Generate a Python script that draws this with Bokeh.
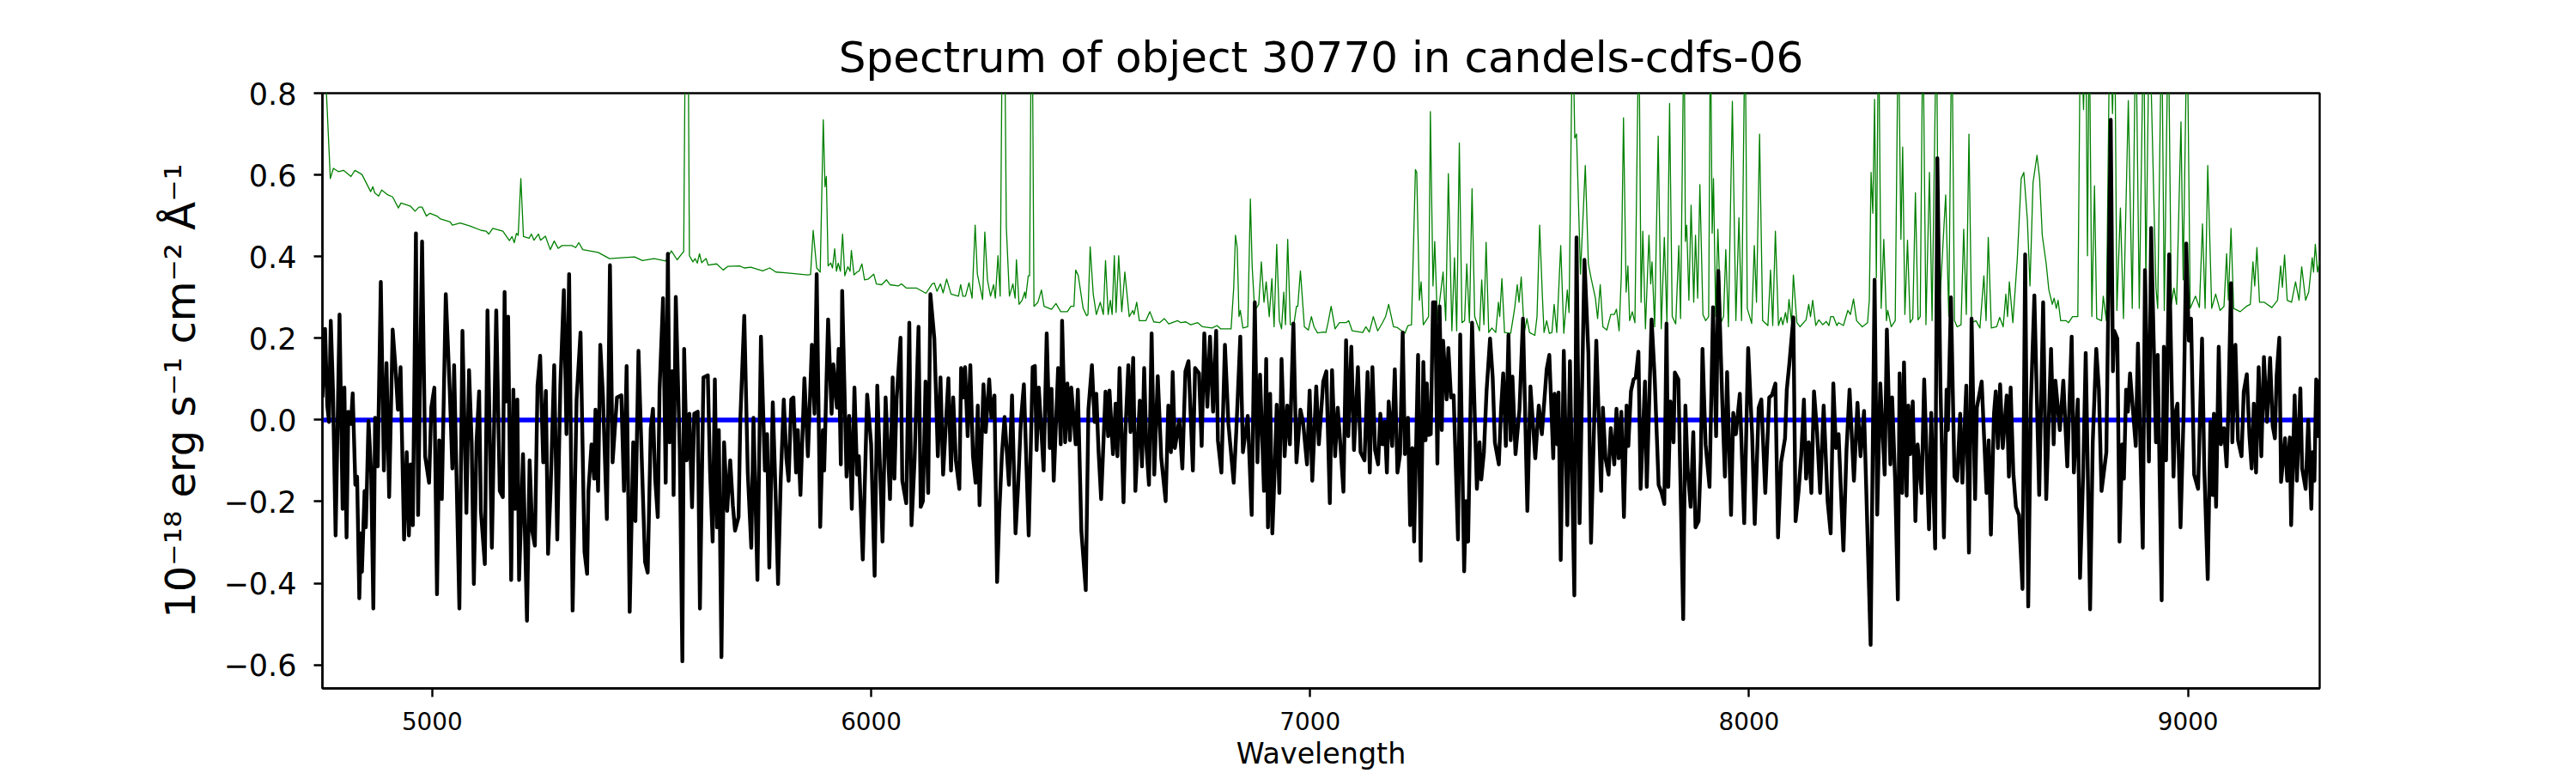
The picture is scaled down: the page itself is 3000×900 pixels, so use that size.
from bokeh.embed import file_html
from bokeh.models import FixedTicker, Range1d
from bokeh.plotting import figure
from bokeh.resources import INLINE

TITLE = "Spectrum of object 30770 in candels-cdfs-06"
X_LABEL = "Wavelength"
Y_LABEL = "10\u207b\u00b9\u2078 erg s\u207b\u00b9 cm\u207b\u00b2 \u00c5\u207b\u00b9"
x_ticks = [5000, 6000, 7000, 8000, 9000]
y_ticks = [-0.6, -0.4, -0.2, 0.0, 0.2, 0.4, 0.6, 0.8]
y_tick_labels = ["\u22120.6", "\u22120.4", "\u22120.2", "0.0", "0.2", "0.4", "0.6", "0.8"]

black_wave_a = [4750,4756,4761,4765,4769,4774,4780,4789,4796,4800,4805,4809,4815,4819,4825,4829,4834,4838,4840,4846,4849,4855,4861,4866,4870,4876,4883,4890,4896,4902,4910,4916,4922,4928,4936,4942,4947,4951,4956,4963,4968,4977,4984,4993,4998,5005,5011,5016,5022,5031,5040,5046,5050,5062,5069,5078,5084,5090,5095,5101,5107,5111,5120,5126,5136,5146,5154,5161,5165,5168,5173,5180,5185,5189,5194,5198,5207,5216,5222,5228,5234,5240,5246,5253,5259,5264,5270,5278,5285,5292,5300,5306,5312,5320,5329,5338,5347,5353,5356,5363,5369,5372,5378,5383,5389,5398,5405,5411,5421,5431,5437,5443,5450,5458,5463,5470,5478,5485,5491,5498,5503,5508,5514,5518,5526,5532,5537,5541,5547,5550,5555,5564,5570,5574,5580,5586,5592,5597,5605,5610,5618,5628,5633,5639,5644,5649,5653,5659,5665,5672,5679,5685,5690,5698,5702,5711,5719,5727,5732,5741,5749,5758,5763,5768,5776,5783,5788,5794,5801,5807,5812,5818,5823,5829,5833,5839,5848,5856]
black_flux_a = [0.055,0.223,0.035,-0.005,0.243,0.074,-0.283,0.258,-0.218,0.079,-0.288,0.02,-0.01,0.065,-0.159,-0.139,-0.437,-0.278,-0.372,-0.174,-0.263,-0.003,-0.129,-0.462,0.005,-0.114,0.338,-0.124,0.139,-0.189,0.221,0.134,0.025,0.129,-0.293,-0.079,-0.283,-0.109,-0.258,0.457,-0.233,0.437,-0.089,-0.154,0.03,0.079,-0.427,-0.05,-0.194,0.308,0.074,-0.119,0.134,-0.462,0.218,-0.228,0.122,-0.055,-0.402,-0.055,0.07,-0.223,-0.353,0.268,-0.313,0.268,-0.174,-0.189,0.313,0.045,0.253,-0.392,0.074,-0.218,0.05,-0.392,-0.084,-0.492,-0.099,-0.273,-0.308,0.084,0.157,-0.104,0.071,-0.328,-0.164,0.134,-0.293,0.084,0.318,-0.035,0.357,-0.467,0.05,0.214,-0.323,-0.377,-0.174,-0.06,-0.144,0.025,-0.174,0.184,0.06,-0.243,0.379,-0.104,0.055,0.06,-0.174,0.132,-0.47,-0.055,-0.248,0.169,-0.114,-0.348,-0.374,-0.02,0.027,-0.144,-0.238,0.072,0.298,-0.154,0.407,-0.055,0.119,-0.184,0.301,-0.074,-0.591,0.174,-0.099,0.015,-0.214,0.015,0.02,-0.462,0.104,0.109,-0.124,-0.298,0.099,-0.263,-0.025,-0.581,-0.055,-0.223,-0.099,-0.209,-0.271,-0.238,0.0,0.255,-0.129,-0.313,0.005,-0.392,0.204,-0.124,-0.035,-0.362,0.043,-0.204,-0.402,-0.149,0.05,-0.094,-0.149,0.05,0.055,-0.129,-0.025,-0.184,0.102,-0.089]

black_wave_b = [5865,5871,5876,5884,5890,5893,5902,5910,5914,5922,5926,5931,5934,5944,5950,5956,5962,5968,5972,5981,5991,6000,6008,6014,6026,6033,6043,6049,6053,6058,6067,6071,6080,6087,6092,6099,6108,6113,6118,6124,6130,6135,6144,6152,6158,6164,6176,6182,6187,6193,6201,6205,6210,6214,6220,6226,6232,6238,6243,6247,6256,6261,6269,6274,6281,6287,6292,6298,6304,6314,6321,6329,6335,6341,6348,6359,6368,6373,6377,6382,6393,6400,6407,6411,6416,6426,6432,6435,6442,6447,6453,6456,6466,6471,6479,6489,6495,6503,6509,6513,6518,6524,6534,6540,6543,6551,6557,6561,6566,6575,6579,6586,6591,6597,6602,6612,6617,6622,6627,6633,6639,6645,6653,6661,6671,6677,6683,6687,6692,6702,6709,6716,6723,6733,6738,6747,6753,6759,6766,6772,6779,6786,6790,6798,6806,6814,6826,6832,6841,6847,6858,6867,6874,6880,6886,6895,6900,6904,6909,6914,6919,6924,6930,6935,6942,6948,6954,6962,6969,6978,6984,6993,6999,7005,7014,7020,7030]
black_flux_b = [0.184,0.015,0.357,-0.262,-0.025,-0.124,0.246,0.015,0.136,0.03,0.174,-0.109,0.316,-0.139,0.01,-0.218,0.079,-0.134,-0.089,-0.342,0.062,-0.06,-0.382,0.084,-0.298,0.055,-0.194,0.104,-0.144,0.05,0.201,-0.149,-0.204,0.238,-0.258,-0.099,0.228,-0.213,-0.199,0.094,-0.179,0.308,0.199,-0.089,0.104,-0.134,0.102,-0.124,0.055,-0.099,-0.169,0.127,0.055,0.129,-0.04,0.134,-0.089,-0.154,0.035,-0.209,0.087,-0.03,0.099,0.005,0.06,-0.397,-0.228,-0.084,0.007,-0.159,0.06,-0.278,-0.159,-0.005,0.087,-0.283,0.129,0.132,-0.074,0.079,-0.124,0.212,-0.069,0.076,-0.149,0.127,-0.06,0.243,-0.055,0.089,-0.05,0.079,-0.06,0.074,-0.273,-0.417,0.025,0.134,-0.005,0.064,-0.074,-0.194,0.069,-0.04,0.072,-0.084,0.04,-0.089,0.127,-0.202,-0.035,0.134,-0.03,0.152,-0.174,0.047,-0.114,0.127,-0.064,-0.159,0.212,-0.134,0.107,-0.094,-0.199,0.035,-0.079,0.117,-0.069,0.0,-0.119,0.119,0.144,-0.124,0.127,0.114,-0.064,0.212,0.032,0.204,0.02,0.218,-0.05,-0.129,0.184,-0.01,-0.154,-0.025,0.204,-0.079,0.01,-0.233,0.288,-0.104,0.111,-0.174,0.149,-0.263,0.064,-0.278,-0.134,0.037,-0.179,0.149,-0.089,0.035,-0.06,0.236,-0.104,0.025,-0.005,-0.109,0.072,-0.149,0.082,-0.06,0.094]

black_wave_c = [7037,7045,7050,7057,7063,7069,7076,7082,7087,7094,7100,7109,7115,7124,7131,7136,7142,7148,7155,7160,7165,7170,7175,7179,7187,7193,7199,7205,7211,7216,7223,7228,7233,7237,7246,7252,7258,7263,7266,7270,7275,7280,7285,7290,7295,7300,7303,7311,7315,7321,7327,7337,7342,7351,7355,7360,7369,7380,7386,7390,7396,7402,7410,7416,7421,7430,7435,7440,7446,7452,7457,7461,7468,7477,7485,7495,7502,7513,7521,7528,7539,7545,7554,7557,7563,7566,7571,7578,7586,7592,7602,7607,7614,7625,7634,7640,7652,7663,7667,7673,7680,7685,7693,7698,7703,7709,7715,7721,7725,7731,7737,7742,7748,7753,7763,7767,7778,7785,7794,7801,7807,7812,7816,7821,7828,7831,7839,7843,7850,7855,7860,7867,7873,7878,7885,7890,7894,7901,7910,7918,7925,7930,7939,7945,7950,7959,7964,7970,7979,7989,7998,8007,8013,8022,8028,8037,8046,8052,8060,8066,8073,8082,8086,8092,8101,8106,8113,8119,8125,8130,8136,8142,8148,8155,8162,8170,8179,8186,8192,8198,8204]
black_flux_c = [0.119,-0.204,0.122,-0.089,0.03,-0.06,-0.176,0.195,-0.04,0.179,-0.074,0.129,-0.079,-0.099,0.117,-0.129,0.129,-0.074,-0.109,0.015,-0.06,-0.005,-0.129,0.045,-0.064,0.124,-0.129,-0.084,0.214,-0.084,0.005,-0.258,-0.069,-0.298,0.159,-0.345,0.142,-0.05,0.089,-0.037,-0.035,0.288,0.288,-0.107,0.278,-0.025,0.194,0.05,0.176,0.055,0.06,-0.293,0.209,-0.371,-0.199,-0.298,0.238,-0.169,-0.055,-0.146,-0.079,0.07,0.199,0.104,-0.055,-0.109,0.025,0.114,-0.064,0.208,-0.05,0.106,-0.084,0.025,0.248,-0.223,0.082,-0.094,0.035,-0.035,0.124,0.159,-0.094,0.064,-0.06,0.067,-0.343,0.169,-0.258,0.144,-0.43,0.447,-0.253,0.392,0.164,-0.301,0.194,-0.174,0.03,-0.094,-0.134,-0.02,-0.109,0.027,-0.094,0.02,-0.238,0.035,-0.064,0.07,0.099,0.104,0.167,-0.169,0.094,-0.164,0.246,0.104,-0.159,-0.179,-0.206,0.236,-0.164,0.045,-0.055,0.116,0.099,-0.114,-0.488,0.035,-0.119,-0.213,-0.03,-0.263,-0.248,-0.099,0.174,-0.06,-0.164,0.276,-0.04,0.365,0.045,-0.139,0.117,-0.233,0.017,-0.035,0.064,-0.253,0.176,-0.035,-0.255,0.03,0.05,-0.179,0.055,0.06,0.089,-0.288,-0.104,-0.045,0.074,0.139,0.251,-0.248,-0.174,-0.084,0.05,-0.144,-0.055,-0.179,0.07,-0.03,-0.179,0.035,-0.199,-0.278,0.089,-0.069,-0.035]

black_wave_d = [8215,8222,8229,8239,8247,8254,8262,8277,8286,8292,8299,8309,8314,8322,8326,8333,8339,8343,8349,8353,8359,8363,8367,8373,8379,8384,8393,8399,8410,8415,8424,8429,8436,8444,8450,8453,8460,8468,8474,8481,8486,8495,8501,8507,8515,8519,8530,8541,8546,8551,8558,8562,8567,8572,8578,8587,8592,8596,8602,8608,8615,8623,8629,8636,8642,8650,8661,8670,8677,8688,8694,8698,8708,8716,8725,8735,8740,8749,8754,8761,8767,8771,8777,8783,8791,8797,8803,8814,8824,8829,8832,8839,8844,8850,8854,8859,8863,8868,8881,8886,8897,8902,8911,8916,8927,8931,8940,8945,8950,8957,8967,8971,8976,8983,8990,8996,9002,9007,9014,9023,9032,9037,9045,9051,9056,9059,9064,9070,9075,9082,9088,9092,9098,9101,9108,9114,9122,9127,9134,9140,9145,9150,9155,9161,9167,9173,9180,9187,9193,9198,9202,9208,9212,9221,9226,9232,9235,9243,9248,9256,9260,9268,9274,9281,9284,9288,9292,9297,9299]
black_flux_d = [-0.32,-0.074,0.074,-0.149,0.042,-0.089,0.022,-0.551,0.343,-0.232,0.089,-0.134,0.221,-0.109,0.055,-0.154,-0.44,0.114,-0.179,0.141,-0.186,0.035,-0.084,0.045,-0.248,-0.06,-0.179,0.099,-0.268,0.017,-0.315,0.641,0.084,-0.288,0.074,-0.025,0.3,-0.139,-0.149,0.015,-0.154,0.084,-0.325,0.248,-0.194,0.03,0.094,-0.179,-0.05,-0.281,0.015,0.07,-0.069,0.087,-0.069,0.06,-0.139,0.079,-0.129,-0.213,-0.233,-0.414,0.405,-0.457,0.04,0.305,-0.184,0.288,-0.194,0.174,-0.06,0.096,-0.025,0.096,-0.114,0.204,-0.129,0.05,-0.387,-0.139,0.164,-0.084,-0.464,-0.055,0.174,0.074,-0.174,-0.079,0.735,0.119,0.218,0.199,-0.298,-0.06,-0.144,0.074,0.02,0.114,-0.064,0.187,-0.313,0.367,-0.102,0.47,-0.055,0.159,-0.442,0.179,-0.099,0.405,-0.139,0.015,0.04,-0.263,0.015,0.432,0.194,0.248,-0.134,-0.169,0.199,-0.114,-0.39,-0.005,-0.184,0.015,-0.213,0.179,-0.06,-0.02,-0.114,0.03,0.335,-0.055,0.184,-0.05,-0.089,0.069,0.112,-0.04,-0.119,0.04,-0.129,0.129,-0.089,0.154,-0.005,0.152,-0.015,-0.045,0.109,0.201,-0.152,-0.045,-0.149,-0.043,-0.258,0.06,-0.149,0.077,-0.119,-0.169,0.0,-0.218,-0.079,-0.149,0.099,-0.04,0.099]

green_wave_a = [4753,4760,4768,4775,4786,4798,4815,4824,4840,4860,4865,4869,4878,4885,4899,4910,4923,4929,4951,4961,4970,4977,4987,4995,5011,5019,5041,5046,5064,5086,5112,5123,5129,5138,5161,5176,5182,5187,5192,5196,5202,5208,5221,5226,5232,5242,5247,5258,5269,5278,5287,5296,5318,5327,5334,5343,5359,5378,5404,5431,5461,5479,5505,5532,5545,5558,5569,5573,5577,5583,5586,5594,5599,5604,5609,5614,5624,5629,5648,5663,5674,5700,5711,5726,5753,5769,5783,5805,5856]
green_flux_a = [0.938,0.78,0.591,0.616,0.608,0.611,0.596,0.611,0.601,0.559,0.571,0.556,0.548,0.563,0.551,0.546,0.519,0.531,0.523,0.511,0.521,0.521,0.499,0.506,0.499,0.492,0.485,0.477,0.482,0.475,0.464,0.462,0.455,0.469,0.462,0.439,0.449,0.434,0.457,0.452,0.591,0.449,0.445,0.455,0.44,0.455,0.44,0.45,0.417,0.438,0.42,0.427,0.427,0.422,0.434,0.417,0.414,0.41,0.395,0.397,0.399,0.39,0.395,0.389,0.414,0.392,0.407,0.412,1.0,1.0,0.402,0.387,0.395,0.384,0.407,0.385,0.395,0.379,0.382,0.367,0.376,0.377,0.372,0.374,0.365,0.372,0.362,0.36,0.355]

green_wave_b = [5862,5868,5876,5884,5891,5895,5898,5902,5908,5912,5917,5921,5925,5930,5935,5940,5947,5952,5955,5961,5968,5973,5979,5985,5994,6006,6012,6024,6035,6043,6062,6069,6080,6103,6125,6139,6144,6150,6158,6164,6172,6182,6199,6204,6209,6215,6223,6230,6237,6242,6254,6259,6265,6272,6279,6283,6289,6294,6299,6304,6308,6315,6323,6328,6331,6337,6344,6350,6352,6358,6361,6365,6367,6371,6380,6388,6394,6411,6421,6432,6447,6455,6462,6466,6472,6483,6491,6494,6499,6506,6513,6522,6529,6534,6540,6545,6549,6554,6558,6564,6571,6578,6588,6596,6599,6605,6611,6626,6635,6644,6657,6668,6678,6698,6706,6717,6728,6744,6755,6777,6788,6796,6820,6826,6830,6834,6838,6841,6847,6858,6864,6868,6873,6877,6883,6889,6895,6900,6907,6913,6918,6924,6930,6935,6940,6944,6949,6955,6963,6969,6972,6978,6987,6996,7003,7009,7017,7030]
green_flux_b = [0.356,0.464,0.372,0.362,0.735,0.571,0.596,0.377,0.384,0.372,0.419,0.364,0.384,0.364,0.455,0.353,0.375,0.364,0.415,0.355,0.362,0.365,0.382,0.343,0.345,0.357,0.333,0.331,0.343,0.331,0.328,0.333,0.323,0.323,0.31,0.333,0.335,0.315,0.333,0.311,0.345,0.308,0.303,0.331,0.303,0.303,0.336,0.298,0.477,0.357,0.295,0.46,0.343,0.303,0.331,0.298,0.402,0.303,1.0,1.0,0.472,0.303,0.333,0.298,0.392,0.283,0.293,0.313,0.298,0.353,0.353,1.0,1.0,0.278,0.288,0.318,0.278,0.271,0.285,0.265,0.265,0.278,0.278,0.367,0.353,0.273,0.255,0.258,0.424,0.308,0.258,0.288,0.258,0.39,0.258,0.293,0.258,0.402,0.263,0.402,0.265,0.362,0.253,0.268,0.258,0.288,0.243,0.243,0.265,0.24,0.238,0.248,0.235,0.243,0.238,0.24,0.233,0.238,0.228,0.225,0.231,0.223,0.223,0.323,0.452,0.422,0.253,0.268,0.225,0.228,0.541,0.377,0.283,0.273,0.283,0.387,0.288,0.338,0.253,0.346,0.228,0.43,0.243,0.223,0.313,0.233,0.442,0.233,0.233,0.278,0.278,0.365,0.228,0.22,0.253,0.228,0.213,0.215]

green_wave_c = [7036,7041,7048,7057,7067,7082,7088,7096,7120,7127,7135,7144,7154,7165,7172,7179,7190,7199,7216,7223,7231,7240,7243,7249,7253,7258,7270,7274,7280,7284,7290,7296,7303,7309,7315,7323,7329,7334,7340,7346,7352,7357,7363,7369,7375,7386,7391,7396,7401,7407,7414,7423,7429,7432,7437,7443,7457,7466,7472,7476,7481,7488,7494,7500,7512,7517,7523,7529,7533,7539,7545,7551,7556,7562,7571,7578,7586,7590,7598,7603,7607,7616,7627,7634,7640,7650,7655,7661,7667,7676,7685,7693,7698,7704,7709,7714,7720,7724,7728,7734,7740,7749,7754,7758,7764,7772,7776,7779,7785,7793,7800,7807,7813,7819,7825,7833,7840,7844,7852,7855,7858,7863,7868,7874,7878,7883,7888,7895,7901,7908,7912,7916,7919,7924,7929,7936,7942,7947,7953,7962,7970,7977,7983,7991,7996,8006,8012,8017,8024,8031,8043,8049,8054,8060,8067,8073,8077,8083,8087,8091,8097,8101,8109,8116,8130,8136,8140,8145,8152,8159,8168,8176,8182,8186,8192,8200,8204]
green_flux_c = [0.214,0.238,0.278,0.223,0.238,0.238,0.243,0.218,0.214,0.228,0.215,0.253,0.218,0.238,0.253,0.283,0.228,0.226,0.212,0.231,0.233,0.613,0.606,0.293,0.338,0.233,0.253,0.755,0.328,0.437,0.243,0.298,0.362,0.243,0.603,0.218,0.397,0.218,0.678,0.238,0.243,0.382,0.238,0.566,0.253,0.218,0.343,0.233,0.435,0.214,0.225,0.214,0.288,0.253,0.346,0.214,0.212,0.273,0.331,0.288,0.35,0.214,0.248,0.214,0.207,0.253,0.477,0.308,0.214,0.243,0.212,0.214,0.283,0.214,0.427,0.212,0.318,0.263,1.0,0.69,0.70,0.357,0.623,0.382,0.348,0.298,0.248,0.331,0.228,0.22,0.258,0.258,0.271,0.218,0.353,0.74,0.313,0.377,0.243,0.265,0.238,1.0,0.288,0.462,0.223,0.452,0.333,0.387,0.228,0.695,0.223,0.447,0.238,0.775,0.253,0.235,0.427,0.248,1.0,0.437,0.477,0.293,0.526,0.288,0.452,0.298,0.576,0.258,0.243,0.253,1.0,0.457,0.591,0.253,0.467,0.238,0.253,0.417,0.228,0.78,0.243,0.495,0.243,1.0,0.273,0.236,0.427,0.288,0.70,0.243,0.231,0.367,0.231,0.462,0.231,0.251,0.233,0.263,0.238,0.295,0.238,0.355,0.238,0.228,0.245,0.283,0.253,0.293,0.231,0.245,0.233,0.241,0.231,0.253,0.253,0.231,0.238]

green_wave_d = [8215,8225,8231,8238,8245,8258,8270,8274,8278,8282,8286,8290,8295,8301,8307,8313,8316,8324,8333,8340,8346,8350,8355,8361,8367,8373,8379,8385,8390,8396,8403,8411,8417,8427,8432,8448,8455,8462,8468,8474,8483,8489,8495,8501,8507,8517,8526,8535,8540,8545,8552,8564,8571,8579,8585,8589,8593,8601,8611,8620,8626,8634,8640,8647,8656,8662,8668,8677,8683,8691,8695,8700,8704,8710,8722,8728,8737,8749,8755,8762,8767,8771,8775,8781,8787,8792,8803,8807,8814,8822,8828,8833,8838,8846,8853,8864,8873,8881,8889,8899,8904,8912,8927,8931,8940,8946,8955,8962,8968,8974,8984,8989,8998,9005,9017,9026,9033,9039,9045,9054,9063,9073,9082,9088,9092,9098,9104,9119,9133,9142,9148,9152,9157,9163,9174,9191,9204,9211,9215,9220,9226,9236,9245,9253,9259,9268,9275,9283,9286,9290,9295,9300]
green_flux_d = [0.231,0.268,0.258,0.296,0.243,0.228,0.238,0.293,0.606,0.506,0.785,0.348,1.0,0.273,0.442,0.243,0.268,0.228,0.243,1.0,0.442,0.668,0.258,0.44,0.238,0.248,0.556,0.245,0.253,1.0,0.233,0.606,0.243,1.0,0.238,0.551,0.253,1.0,0.243,0.228,0.233,0.467,0.258,0.70,0.238,0.243,0.225,0.353,0.243,0.447,0.225,0.228,0.251,0.228,0.308,0.253,0.338,0.238,0.392,0.591,0.606,0.492,0.328,0.581,0.648,0.591,0.452,0.382,0.318,0.283,0.298,0.273,0.293,0.243,0.243,0.238,0.253,0.253,1.0,0.76,1.0,0.402,1.0,0.253,0.573,0.248,0.243,0.303,0.243,1.0,0.75,1.0,0.268,0.519,0.248,0.782,0.273,1.0,0.273,1.0,0.343,1.0,0.323,0.273,1.0,0.268,1.0,0.283,0.323,0.283,0.73,0.343,1.0,0.273,0.303,0.275,0.48,0.273,0.623,0.273,0.308,0.268,0.278,0.407,0.293,0.469,0.273,0.265,0.278,0.283,0.387,0.328,0.422,0.288,0.288,0.275,0.293,0.377,0.325,0.404,0.293,0.288,0.338,0.293,0.375,0.293,0.313,0.397,0.362,0.43,0.362,0.39]

blue_wave = [4750, 9300]
blue_flux = [0.0, 0.0]

black_wave = black_wave_a + black_wave_b + black_wave_c + black_wave_d
black_flux = black_flux_a + black_flux_b + black_flux_c + black_flux_d
green_wave = green_wave_a + green_wave_b + green_wave_c + green_wave_d
green_flux = green_flux_a + green_flux_b + green_flux_c + green_flux_d

FONT = "DejaVu Sans"
p = figure(
    width=2984, height=890, output_backend="svg", toolbar_location=None,
    x_range=Range1d(4750, 9300), y_range=Range1d(-0.6575, 0.8),
    frame_width=2326, frame_height=693,
    min_border_left=375, min_border_right=283, min_border_top=108, min_border_bottom=89,
    title=TITLE, x_axis_label=X_LABEL, y_axis_label=Y_LABEL,
)
p.background_fill_color = "white"
p.border_fill_color = "white"
p.outline_line_color = "black"
p.outline_line_width = 2.4
p.grid.visible = False
p.title.text_font = FONT
p.title.text_font_size = "50px"
p.title.text_font_style = "normal"
p.title.align = "center"
p.title.text_color = "black"
p.title.standoff = 26

for ax in (p.xaxis[0], p.yaxis[0]):
    ax.axis_line_width = 2.4
    ax.major_tick_line_width = 2.4
    ax.major_tick_out = 10
    ax.major_tick_in = 0
    ax.minor_tick_line_color = None
    ax.major_label_text_font = FONT
    ax.major_label_text_color = "black"
    ax.axis_label_text_font = FONT
    ax.axis_label_text_font_style = "normal"
    ax.axis_label_text_color = "black"

p.xaxis[0].ticker = FixedTicker(ticks=x_ticks)
p.xaxis[0].major_label_text_font_size = "27.8px"
p.xaxis[0].axis_label_text_font_size = "33.3px"
p.xaxis[0].axis_label_standoff = 5
p.xaxis[0].major_label_standoff = 17
p.yaxis[0].ticker = FixedTicker(ticks=y_ticks)
p.yaxis[0].major_label_overrides = dict(zip(y_ticks, y_tick_labels))
p.yaxis[0].major_label_text_font_size = "35px"
p.yaxis[0].major_label_standoff = 20
p.yaxis[0].axis_label_text_font_size = "48px"
p.yaxis[0].axis_label_standoff = 20

p.line(green_wave, green_flux, line_color="#008000", line_width=1.3, line_join="round")
p.line(blue_wave, blue_flux, line_color="#0000ff", line_width=5.5)
p.line(black_wave, black_flux, line_color="black", line_width=4.4, line_join="round")

open("out.html", "w").write(file_html(p, INLINE))
